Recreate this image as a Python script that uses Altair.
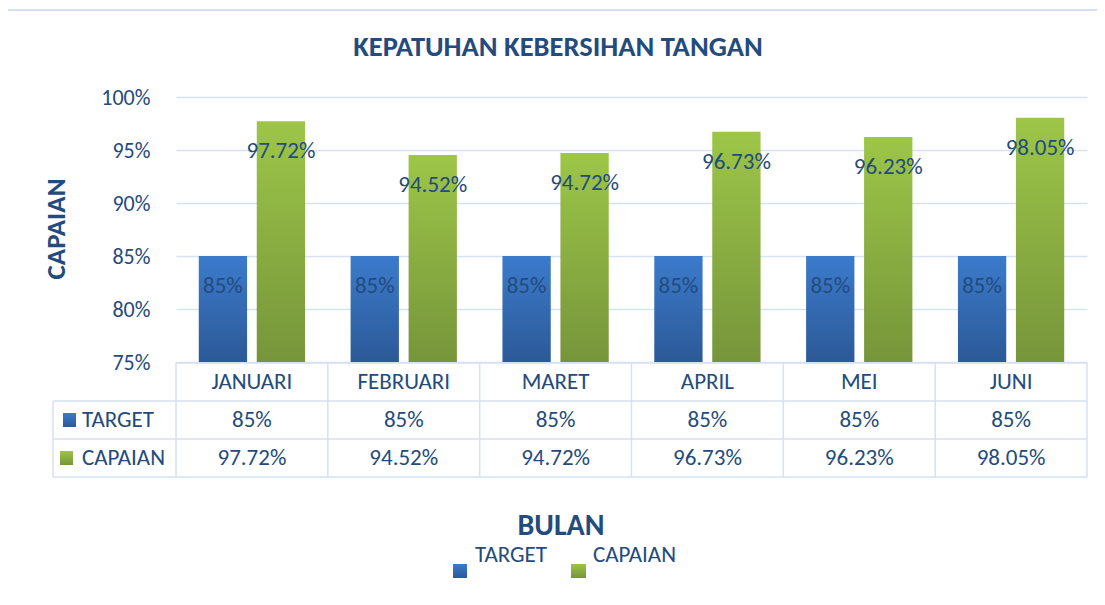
import altair as alt
import pandas as pd

# ---------------- data ----------------
months = ["JANUARI", "FEBRUARI", "MARET", "APRIL", "MEI", "JUNI"]
target = [85, 85, 85, 85, 85, 85]
capaian = [97.72, 94.52, 94.72, 96.73, 96.23, 98.05]
series = ["TARGET", "CAPAIAN"]
y_ticks = [75, 80, 85, 90, 95, 100]

title_text = "KEPATUHAN KEBERSIHAN TANGAN"
y_title = "CAPAIAN"
x_title = "BULAN"

df = pd.DataFrame({
    "month": months * 2,
    "series": ["TARGET"] * len(months) + ["CAPAIAN"] * len(months),
    "value": target + capaian,
})

# ---------------- style ----------------
W, H = 911, 265
TEXT = "#234b7d"
GRID = "#d6e1f3"
REG_FONT = "Carlito, Lato, sans-serif"
BOLD_FONT = "Carlito, Liberation Sans, sans-serif"
FS = 23

blue_grad = alt.Gradient(gradient="linear", x1=0, x2=0, y1=0, y2=1,
                         stops=[alt.GradientStop(color="#3b7bcc", offset=0),
                                alt.GradientStop(color="#2c5997", offset=1)])
green_grad = alt.Gradient(gradient="linear", x1=0, x2=0, y1=0, y2=1,
                          stops=[alt.GradientStop(color="#9dc648", offset=0),
                                 alt.GradientStop(color="#76953a", offset=1)])

x_enc = alt.X("month:N", sort=months, axis=None,
              scale=alt.Scale(domain=months, paddingInner=0.3, paddingOuter=0.15))
xo_enc = alt.XOffset("series:N", sort=series,
                     scale=alt.Scale(domain=series, paddingInner=0.167, paddingOuter=0))
y_enc = alt.Y("value:Q",
              scale=alt.Scale(domain=[75, 100], zero=False, nice=False),
              axis=alt.Axis(values=y_ticks, labelExpr="datum.value + '%'",
                            grid=True, gridColor=GRID, gridWidth=1.5,
                            domain=False, ticks=False, labelPadding=26,
                            labelFontSize=22, labelFont=REG_FONT, labelColor=TEXT,
                            title=None))

base = alt.Chart(df).transform_calculate(
    lbl="format(datum.value, '.2~f') + '%'"
)

bars_t = base.transform_filter("datum.series == 'TARGET'").mark_bar(fill=blue_grad).encode(
    x=x_enc, xOffset=xo_enc, y=y_enc, y2=alt.datum(75))
bars_c = base.transform_filter("datum.series == 'CAPAIAN'").mark_bar(fill=green_grad).encode(
    x=x_enc, xOffset=xo_enc, y=y_enc, y2=alt.datum(75))

bar_labels = base.mark_text(dy=30, baseline="middle", align="center",
                            fontSize=FS, font=REG_FONT, color=TEXT).encode(
    x=x_enc, xOffset=xo_enc, y=y_enc, text="lbl:N")

one = pd.DataFrame({"a": [0]})


def txt(s, x, y, size=FS, font=REG_FONT, bold=False, align="center", angle=0):
    kw = dict(fontSize=size, font=font, color=TEXT, align=align, baseline="middle")
    if bold:
        kw["fontWeight"] = "bold"
    if angle:
        kw["angle"] = angle
    return alt.Chart(one).mark_text(text=s, **kw).encode(x=alt.value(x), y=alt.value(y))


def rule(x, x2, y, y2):
    return alt.Chart(one).mark_rule(color=GRID, strokeWidth=1.5).encode(
        x=alt.value(x), x2=alt.value(x2), y=alt.value(y), y2=alt.value(y2))


def box(x, x2, y, y2, fill):
    return alt.Chart(one).mark_rect(fill=fill).encode(
        x=alt.value(x), x2=alt.value(x2), y=alt.value(y), y2=alt.value(y2))


# frame around the whole chart
frame = alt.Chart(one).mark_rect(fill="transparent", stroke="#d5e0f3", strokeWidth=2).encode(
    x=alt.value(-169), x2=alt.value(1000), y=alt.value(-87), y2=alt.value(600))

# ---------------- data table ----------------
y_hdr, y_t, y_c = 285, 323, 361
hdr = alt.Chart(pd.DataFrame({"month": months})).mark_text(
    fontSize=FS, font=REG_FONT, color=TEXT, baseline="middle").encode(
    x=x_enc, y=alt.value(y_hdr), text="month:N")
row_t = base.transform_filter("datum.series == 'TARGET'").mark_text(
    fontSize=FS, font=REG_FONT, color=TEXT, baseline="middle").encode(
    x=x_enc, y=alt.value(y_t), text="lbl:N")
row_c = base.transform_filter("datum.series == 'CAPAIAN'").mark_text(
    fontSize=FS, font=REG_FONT, color=TEXT, baseline="middle").encode(
    x=x_enc, y=alt.value(y_c), text="lbl:N")

step = W / len(months)
lines = [rule(0, W, 266, 266)]
for yy in (304, 342, 380):
    lines.append(rule(-123, W, yy, yy))
for i in range(len(months) + 1):
    lines.append(rule(i * step, i * step, 266, 380))
lines.append(rule(-123, -123, 304, 380))

table_keys = [
    box(-113, -100, 316, 330, blue_grad),
    box(-116, -103, 354, 368, green_grad),
    txt("TARGET", -94, y_t, align="left"),
    txt("CAPAIAN", -94, y_c, align="left"),
]

# ---------------- titles & legend ----------------
titles = [
    txt(title_text, 382, -50, size=28.5, font=BOLD_FONT, bold=True),
    txt(y_title, -119, 132, size=27, font=BOLD_FONT, bold=True, angle=270),
    txt(x_title, 385, 429, size=30, font=BOLD_FONT, bold=True),
]
legend = [
    box(277, 291, 467, 481, blue_grad),
    txt("TARGET", 299, 458, align="left"),
    box(395, 410, 467, 481, green_grad),
    txt("CAPAIAN", 417, 458, align="left"),
]

chart = alt.layer(
    frame, bars_t, bars_c, bar_labels, hdr, row_t, row_c,
    *lines, *table_keys, *titles, *legend
).properties(
    width=W, height=H,
    autosize=alt.AutoSizeParams(type="none"),
    padding={"left": 168, "top": 89, "right": 10, "bottom": 220},
).configure_view(stroke=None)

chart.save("out.html", embed_options={"renderer": "svg", "actions": False})
